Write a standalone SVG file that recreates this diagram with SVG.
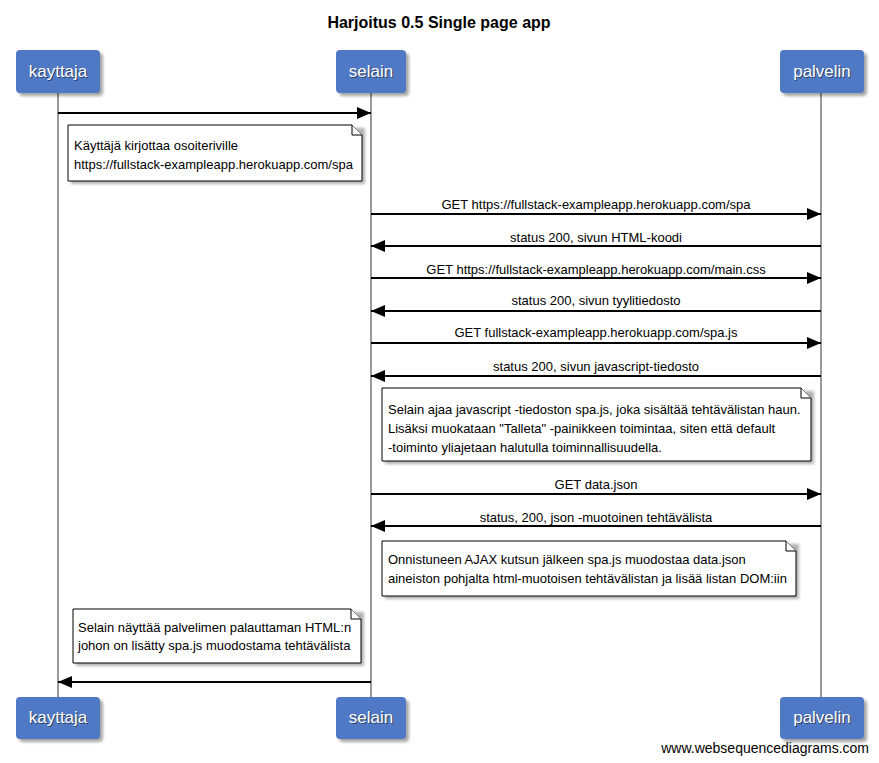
<svg xmlns="http://www.w3.org/2000/svg" width="879" height="763" viewBox="0 0 879 763">
<style>
  text { font-family: "Liberation Sans", Arial, sans-serif; }
  .title { font-size: 16px; font-weight: bold; fill: #000; }
  .pbox { fill: #5079c5; }
  .pshadow { fill: #000; opacity: 0.35; }
  .plabel { font-size: 17px; fill: #fff; text-anchor: middle; }
  .plabel-sh { font-size: 17px; fill: #000; opacity: 0.5; text-anchor: middle; }
  .life { stroke: #999; stroke-width: 2; }
  .msg { stroke: #000; stroke-width: 2; fill: none; }
  .mlabel { font-size: 13px; fill: #000; text-anchor: middle; }
  .note { fill: #fff; stroke: #000; stroke-width: 1; }
  .nshadow { fill: #000; opacity: 0.3; }
  .ntext { font-size: 13px; fill: #000; }
  .foot { font-size: 14px; fill: #000; text-anchor: end; }
</style>
<defs>
  <marker id="ah" markerWidth="14" markerHeight="12" refX="14" refY="6" orient="auto" markerUnits="userSpaceOnUse">
    <path d="M0,0 L14,6 L0,12 Z" fill="#000"/>
  </marker>
  <filter id="blur" x="-10%" y="-10%" width="120%" height="130%">
    <feGaussianBlur stdDeviation="1.5"/>
  </filter>
</defs>

<text class="title" x="439" y="28" text-anchor="middle">Harjoitus 0.5 Single page app</text>

<g id="lifelines">
  <line class="life" x1="58" y1="93" x2="58" y2="697"/>
  <line class="life" x1="371" y1="93" x2="371" y2="697"/>
  <line class="life" x1="821" y1="93" x2="821" y2="697"/>
</g>

<g id="kayttaja">
  <rect class="pshadow" x="19" y="53" width="84" height="43" rx="4" filter="url(#blur)"/>
  <rect class="pbox" x="16" y="50" width="84" height="43" rx="4"/>
  <text class="plabel-sh" x="59" y="78">kayttaja</text>
  <text class="plabel" x="58" y="77">kayttaja</text>
  <rect class="pshadow" x="19" y="700" width="84" height="42" rx="4" filter="url(#blur)"/>
  <rect class="pbox" x="16" y="697" width="84" height="42" rx="4"/>
  <text class="plabel-sh" x="59" y="724">kayttaja</text>
  <text class="plabel" x="58" y="723">kayttaja</text>
</g>

<g id="selain">
  <rect class="pshadow" x="339" y="53" width="70" height="43" rx="4" filter="url(#blur)"/>
  <rect class="pbox" x="336" y="50" width="70" height="43" rx="4"/>
  <text class="plabel-sh" x="372" y="78">selain</text>
  <text class="plabel" x="371" y="77">selain</text>
  <rect class="pshadow" x="339" y="700" width="70" height="42" rx="4" filter="url(#blur)"/>
  <rect class="pbox" x="336" y="697" width="70" height="42" rx="4"/>
  <text class="plabel-sh" x="372" y="724">selain</text>
  <text class="plabel" x="371" y="723">selain</text>
</g>

<g id="palvelin">
  <rect class="pshadow" x="783" y="53" width="84" height="43" rx="4" filter="url(#blur)"/>
  <rect class="pbox" x="780" y="50" width="84" height="43" rx="4"/>
  <text class="plabel-sh" x="823" y="78">palvelin</text>
  <text class="plabel" x="822" y="77">palvelin</text>
  <rect class="pshadow" x="783" y="700" width="84" height="42" rx="4" filter="url(#blur)"/>
  <rect class="pbox" x="780" y="697" width="84" height="42" rx="4"/>
  <text class="plabel-sh" x="823" y="724">palvelin</text>
  <text class="plabel" x="822" y="723">palvelin</text>
</g>

<g id="connectors">
  <line class="msg" x1="58" y1="113" x2="371" y2="113" marker-end="url(#ah)"/>

  <line class="msg" x1="371" y1="214" x2="821" y2="214" marker-end="url(#ah)"/>
  <text class="mlabel" x="596" y="209">GET https://fullstack-exampleapp.herokuapp.com/spa</text>

  <line class="msg" x1="821" y1="246" x2="371" y2="246" marker-end="url(#ah)"/>
  <text class="mlabel" x="596" y="242">status 200, sivun HTML-koodi</text>

  <line class="msg" x1="371" y1="278" x2="821" y2="278" marker-end="url(#ah)"/>
  <text class="mlabel" x="596" y="274">GET https://fullstack-exampleapp.herokuapp.com/main.css</text>

  <line class="msg" x1="821" y1="311" x2="371" y2="311" marker-end="url(#ah)"/>
  <text class="mlabel" x="596" y="305">status 200, sivun tyylitiedosto</text>

  <line class="msg" x1="371" y1="343" x2="821" y2="343" marker-end="url(#ah)"/>
  <text class="mlabel" x="596" y="337">GET fullstack-exampleapp.herokuapp.com/spa.js</text>

  <line class="msg" x1="821" y1="376" x2="371" y2="376" marker-end="url(#ah)"/>
  <text class="mlabel" x="596" y="371">status 200, sivun javascript-tiedosto</text>

  <line class="msg" x1="371" y1="494" x2="821" y2="494" marker-end="url(#ah)"/>
  <text class="mlabel" x="596" y="489">GET data.json</text>

  <line class="msg" x1="821" y1="526" x2="371" y2="526" marker-end="url(#ah)"/>
  <text class="mlabel" x="596" y="522">status, 200, json -muotoinen tehtävälista</text>

  <line class="msg" x1="371" y1="682" x2="58" y2="682" marker-end="url(#ah)"/>
</g>

<g id="note1">
  <rect class="nshadow" x="71" y="128" width="294" height="56" filter="url(#blur)"/>
  <path class="note" d="M68,125 L352,125 L362,135 L362,181 L68,181 Z"/>
  <path class="note" d="M352,125 L352,135 L362,135"/>
  <text class="ntext" x="74" y="150">Käyttäjä kirjottaa osoiteriville</text>
  <text class="ntext" x="74" y="169">https://fullstack-exampleapp.herokuapp.com/spa</text>
</g>

<g id="note2">
  <rect class="nshadow" x="385" y="391" width="429" height="73" filter="url(#blur)"/>
  <path class="note" d="M382,388 L801,388 L811,398 L811,461 L382,461 Z"/>
  <path class="note" d="M801,388 L801,398 L811,398"/>
  <text class="ntext" x="388" y="414">Selain ajaa javascript -tiedoston spa.js, joka sisältää tehtävälistan haun.</text>
  <text class="ntext" x="388" y="433">Lisäksi muokataan "Talleta" -painikkeen toimintaa, siten että default</text>
  <text class="ntext" x="388" y="452">-toiminto yliajetaan halutulla toiminnallisuudella.</text>
</g>

<g id="note3">
  <rect class="nshadow" x="385" y="544" width="414" height="55" filter="url(#blur)"/>
  <path class="note" d="M382,541 L786,541 L796,551 L796,596 L382,596 Z"/>
  <path class="note" d="M786,541 L786,551 L796,551"/>
  <text class="ntext" x="388" y="564">Onnistuneen AJAX kutsun jälkeen spa.js muodostaa data.json</text>
  <text class="ntext" x="388" y="583">aineiston pohjalta html-muotoisen tehtävälistan ja lisää listan DOM:iin</text>
</g>

<g id="note4">
  <rect class="nshadow" x="76" y="612" width="288" height="54" filter="url(#blur)"/>
  <path class="note" d="M73,609 L351,609 L361,619 L361,663 L73,663 Z"/>
  <path class="note" d="M351,609 L351,619 L361,619"/>
  <text class="ntext" x="78" y="632">Selain näyttää palvelimen palauttaman HTML:n</text>
  <text class="ntext" x="78" y="650">johon on lisätty spa.js muodostama tehtävälista</text>
</g>

<text class="foot" x="869" y="753">www.websequencediagrams.com</text>
</svg>
